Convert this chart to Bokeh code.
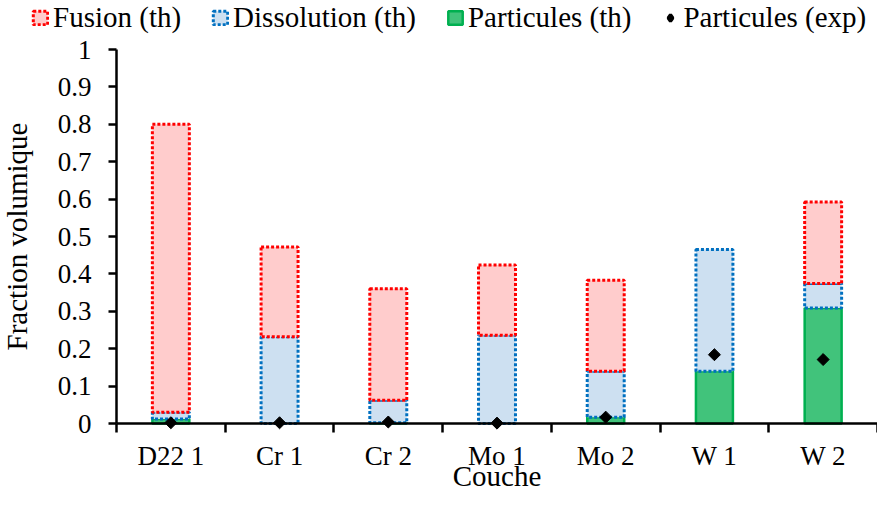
import numpy as np
from bokeh.plotting import figure
from bokeh.models import (ColumnDataSource, Range1d, FixedTicker, Legend, LegendItem, LinearAxis)
from bokeh.embed import file_html
from bokeh.resources import INLINE

# ---- data ----
categories = ["D22 1", "Cr 1", "Cr 2", "Mo 1", "Mo 2", "W 1", "W 2"]
particules_th = [0.012, 0.0, 0.002, 0.0, 0.017, 0.140, 0.309]
dissolution_th = [0.018, 0.232, 0.060, 0.236, 0.123, 0.325, 0.065]
fusion_th = [0.770, 0.240, 0.298, 0.188, 0.243, 0.0, 0.218]
particules_exp = [0.002, 0.002, 0.004, 0.001, 0.017, 0.184, 0.171]
y_ticks = [0.0, 0.1, 0.2, 0.3, 0.4, 0.5, 0.6, 0.7, 0.8, 0.9, 1.0]
y_tick_labels = ["0", "0.1", "0.2", "0.3", "0.4", "0.5", "0.6", "0.7", "0.8", "0.9", "1"]
series_names = ["Fusion (th)", "Dissolution (th)", "Particules (th)", "Particules (exp)"]

n = len(categories)
xc = [i + 0.5 for i in range(n)]
p_arr = np.array(particules_th)
d_arr = np.array(dissolution_th)
f_arr = np.array(fusion_th)

src = ColumnDataSource(dict(
    x=xc,
    p0=np.zeros(n), p1=p_arr,
    d0=p_arr, d1=p_arr + d_arr,
    f0=p_arr + d_arr, f1=p_arr + d_arr + f_arr,
    pa=(p_arr > 0).astype(float),
    da=(d_arr > 0).astype(float),
    fa=(f_arr > 0).astype(float),
    exp=particules_exp,
))

FONT = "Liberation Serif"

# ---- layout (pixels): the frame covers the whole canvas, axes sit inside it ----
W, H = 877, 494
X0_PX = 116              # pixel of the y axis (x = 0)
Y1_PX, Y0_PX = 49, 423   # pixels of y = 1 and y = 0
xs = (W - X0_PX) / n
ys = (Y0_PX - Y1_PX) / 1.0
x_range = Range1d(-X0_PX / xs, n)
y_range = Range1d(-(H - Y0_PX) / ys, 1.0 + Y1_PX / ys)

p = figure(width=W, height=H, output_backend="svg", toolbar_location=None,
           x_range=x_range, y_range=y_range, x_axis_location=None,
           min_border_left=0, min_border_right=0, min_border_top=0, min_border_bottom=0)
p.outline_line_color = None
p.xgrid.visible = False
p.ygrid.visible = False
p.background_fill_color = "white"
p.border_fill_color = "white"

FUS = dict(fill_color="#FFCCCC", line_color="#FF0000", line_width=3, line_dash="3 2")
DIS = dict(fill_color="#CDE0F1", line_color="#0070C0", line_width=3, line_dash="3 2")
PAR = dict(fill_color="#41C37B", line_color="#00B050", line_width=2.5)

bw = 0.34
r_p = p.vbar(x="x", bottom="p0", top="p1", width=bw, source=src, line_alpha="pa", **PAR)
r_d = p.vbar(x="x", bottom="d0", top="d1", width=bw, source=src, line_alpha="da", **DIS)
r_f = p.vbar(x="x", bottom="f0", top="f1", width=bw, source=src, line_alpha="fa", **FUS)
r_e = p.scatter(x="x", y="exp", source=src, marker="square", angle=np.pi / 4, size=8.5,
                fill_color="black", line_color="black")
# legend proxy for the diamonds (legend markers are drawn unrotated)
r_e_leg = p.scatter(x=[np.nan], y=[np.nan], marker="diamond", size=8,
                    fill_color="black", line_color="black", line_width=3.2)

# x axis line + boundary ticks at y = 0
xa = LinearAxis(fixed_location=0, bounds=(0, n),
                ticker=FixedTicker(ticks=xc, minor_ticks=list(range(n + 1))))
xa.major_label_overrides = {x: "" for x in xc}
xa.major_tick_line_color = None
xa.major_tick_in = 0
xa.major_tick_out = 0
xa.major_label_text_font_size = "1px"
xa.minor_tick_in = 0
xa.minor_tick_out = 9
xa.minor_tick_line_color = "black"
xa.minor_tick_line_width = 2.5
xa.axis_line_color = "black"
xa.axis_line_width = 2.5
p.add_layout(xa, "below")

# x category labels + axis title
xb = LinearAxis(fixed_location=0, bounds=(0, n), ticker=FixedTicker(ticks=xc))
xb.major_label_overrides = {x: c for x, c in zip(xc, categories)}
xb.axis_line_color = None
xb.major_tick_line_color = None
xb.minor_tick_line_color = None
xb.major_tick_in = 0
xb.major_tick_out = 0
xb.major_label_text_font = FONT
xb.major_label_text_font_size = "27px"
xb.major_label_text_color = "black"
xb.major_label_standoff = 17
xb.axis_label = "Couche"
xb.axis_label_text_font = FONT
xb.axis_label_text_font_size = "29px"
xb.axis_label_text_font_style = "normal"
xb.axis_label_text_color = "black"
xb.axis_label_standoff = -14
p.add_layout(xb, "below")

# y axis at x = 0
ya = p.yaxis[0]
ya.fixed_location = 0
ya.bounds = (0, 1)
ya.ticker = FixedTicker(ticks=y_ticks)
ya.major_label_overrides = {v: s for v, s in zip(y_ticks, y_tick_labels)}
ya.minor_tick_line_color = None
ya.major_tick_in = 0
ya.major_tick_out = 8
ya.major_tick_line_width = 2.5
ya.major_tick_line_color = "black"
ya.axis_line_color = "black"
ya.axis_line_width = 2.5
ya.major_label_text_font = FONT
ya.major_label_text_font_size = "27px"
ya.major_label_text_color = "black"
ya.major_label_standoff = 17
ya.axis_label = "Fraction volumique"
ya.axis_label_text_font = FONT
ya.axis_label_text_font_size = "29px"
ya.axis_label_text_font_style = "normal"
ya.axis_label_text_color = "black"
ya.axis_label_standoff = 22

legend = Legend(items=[LegendItem(label=nm, renderers=[r])
                       for nm, r in zip(series_names, [r_f, r_d, r_p, r_e_leg])],
                orientation="horizontal", location=(31, 460))
legend.border_line_color = None
legend.background_fill_alpha = 0
legend.padding = 0
legend.margin = 0
legend.spacing = 30
legend.glyph_width = 18
legend.glyph_height = 17
legend.label_standoff = 4
legend.label_text_font = FONT
legend.label_text_font_size = "29px"
legend.label_text_color = "black"
p.add_layout(legend)

open("out.html", "w").write(file_html(p, INLINE))
